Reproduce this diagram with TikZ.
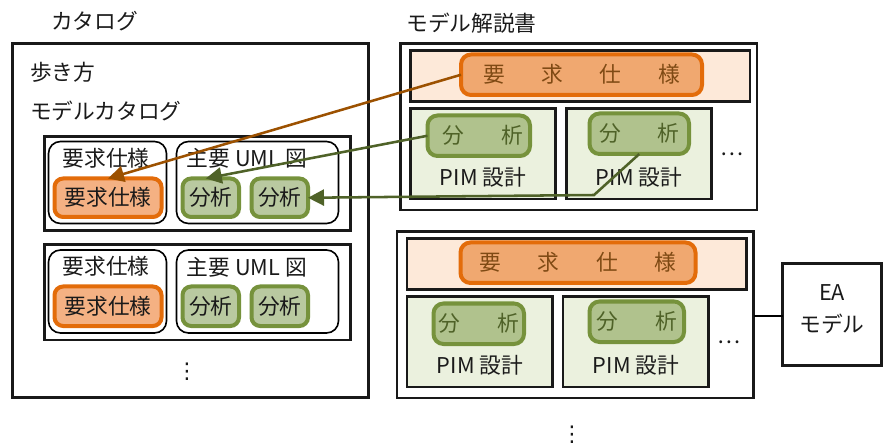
\documentclass[tikz,border=0pt]{standalone}
\usepackage{fontspec}
\setmainfont{Noto Sans CJK JP}
\newfontfamily\symfont{DejaVu Sans}
\usetikzlibrary{arrows.meta,calc}
\definecolor{ink}{HTML}{1A1A1A}
\definecolor{orangeline}{HTML}{E36C0A}
\definecolor{orangefillA}{HTML}{F4B183}
\definecolor{orangefillB}{HTML}{F0A870}
\definecolor{peach}{HTML}{FDE9D9}
\definecolor{greenline}{HTML}{76923C}
\definecolor{greenfillA}{HTML}{B9C9A0}
\definecolor{greenfillB}{HTML}{B0C28D}
\definecolor{palegreen}{HTML}{EBF1DE}
\definecolor{brownarrow}{HTML}{9C5100}
\definecolor{greenarrow}{HTML}{4F6228}
\definecolor{browntext}{HTML}{7F4A14}
\definecolor{greentext}{HTML}{4F6228}
\tikzset{
  x=0.75pt,y=-0.75pt,
  every node/.style={inner sep=0pt,outer sep=0pt,text=ink,font=\fontsize{16.3}{18}\selectfont},
  blackbox/.style={draw=black!90,line width=1.6pt},
  groupbox/.style={draw=black,line width=1.2pt,rounded corners=9pt,fill=white},
  peachbox/.style={blackbox,fill=peach},
  palebox/.style={blackbox,fill=palegreen},
  orangeA/.style={draw=orangeline,line width=3pt,rounded corners=6.5pt,fill=orangefillA},
  orangeB/.style={draw=orangeline,line width=3pt,rounded corners=7.5pt,fill=orangefillB,text=browntext},
  greenA/.style={draw=greenline,line width=3pt,rounded corners=6.5pt,fill=greenfillA},
  greenB/.style={draw=greenline,line width=3pt,rounded corners=7.5pt,fill=greenfillB,text=greentext},
  linkarrow/.style={line width=1.9pt,-{Triangle[length=12pt,width=12pt]}},
  plainlink/.style={draw=black,line width=1.3pt},
}
\newcommand{\bx}[7][]{%
  \node[#1,minimum width={(#5-#3)*0.75pt},minimum height={(#6-#4)*0.75pt}] (#2) at ({(#3+#5)/2},{(#4+#6)/2}) {#7};}
\newcommand{\gapfour}{\hspace{27.5pt}}
\newcommand{\gaptwo}{\hspace{27.5pt}}
\begin{document}
\begin{tikzpicture}
\useasboundingbox (0,0) rectangle (885,445);
% titles
\node (titleA) at (94.5,21) {カタログ};
\node (titleB) at (471.5,23) {モデル解説書};
% left frame
\bx[blackbox]{left}{12.5}{43.5}{368.5}{397.5}{}
\node[anchor=west] (walk) at (30,72) {歩き方};
\node[anchor=west] (catalog) at (30,111) {モデルカタログ};
% row 1
\bx[blackbox]{rowA}{44.5}{136.5}{350.5}{230.5}{}
\bx[groupbox]{grpA}{48.5}{141.5}{166.5}{223.5}{}
\bx[groupbox]{grpB}{176.5}{141.5}{338.5}{223.5}{}
\node (capA) at (106,158) {要求仕様};
\node (capB) at (247,158.5) {主要 UML 図};
\bx[orangeA]{reqA}{54.5}{178.5}{161.5}{217}{要求仕様}
\bx[greenA]{anaA}{182.5}{178.5}{239}{217}{分析}
\bx[greenA]{anaB}{251.5}{178.5}{308}{217}{分析}
% row 2
\bx[blackbox]{rowB}{44.5}{244.5}{350.5}{340}{}
\bx[groupbox]{grpC}{48.5}{250}{166.5}{333}{}
\bx[groupbox]{grpD}{176.5}{250}{338.5}{333}{}
\node (capC) at (106,266.5) {要求仕様};
\node (capD) at (247,267) {主要 UML 図};
\bx[orangeA]{reqB}{54.5}{286.5}{161.5}{326}{要求仕様}
\bx[greenA]{anaC}{182.5}{286.5}{239}{326}{分析}
\bx[greenA]{anaD}{251.5}{286.5}{308}{326}{分析}
\node (dotsA) at (187,372) {\symfont ⋮};
% right top
\bx[blackbox]{docA}{400.5}{43.5}{757}{210}{}
\bx[peachbox]{peachA}{410.5}{50.5}{750}{101.5}{}
\bx[orangeB]{specA}{461}{54.5}{702}{95}{要\gapfour 求\gapfour 仕\gapfour 様}
\bx[palebox]{pimA}{410.5}{108.5}{555.5}{199}{}
\bx[palebox]{pimB}{566.5}{108.5}{711.5}{199}{}
\bx[greenB]{anaE}{427.5}{115.5}{530}{156}{\hspace{6pt}分\gaptwo 析}
\bx[greenB]{anaF}{589.5}{113.5}{689}{154}{分\gaptwo 析}
\node (pimtA) at (483,177) {PIM 設計};
\node (pimtB) at (639,177) {PIM 設計};
\node (dotsB) at (732,154) {…};
% right bottom
\bx[blackbox]{docB}{397}{231.5}{753.5}{398}{}
\bx[peachbox]{peachB}{407}{238.5}{746.5}{289.5}{}
\bx[orangeB]{specB}{460.5}{242.5}{695.5}{283}{要\gapfour 求\gapfour 仕\gapfour 様}
\bx[palebox]{pimC}{407}{296.5}{552.5}{387}{}
\bx[palebox]{pimD}{563}{296.5}{708.5}{387}{}
\bx[greenB]{anaG}{433.5}{303.5}{524}{344}{分\gaptwo 析}
\bx[greenB]{anaH}{589.5}{301.5}{684}{342}{分\gaptwo 析}
\node (pimtC) at (480,365) {PIM 設計};
\node (pimtD) at (636,365) {PIM 設計};
\node (dotsC) at (729,342) {…};
\node (dotsD) at (572,435) {\symfont ⋮};
% EA
\bx[blackbox]{ea}{782.5}{263.5}{881.5}{365.5}{}
\node (eaA) at (832,293) {EA};
\node (eaB) at (832,324) {モデル};
\coordinate (docBedge) at (753.5,316);
\draw[plainlink] (docBedge) -- (docBedge -| ea.west);
% connectors
\draw[linkarrow,draw=brownarrow] (specA.west) -- (reqA.north);
\draw[linkarrow,draw=greenarrow] (anaE.west) -- ($(anaA.north)+(-5,0)$);
\coordinate (bend) at (594,195);
\draw[linkarrow,draw=greenarrow] (anaF.south) -- (bend) -- (anaB.east);
\end{tikzpicture}
\end{document}
